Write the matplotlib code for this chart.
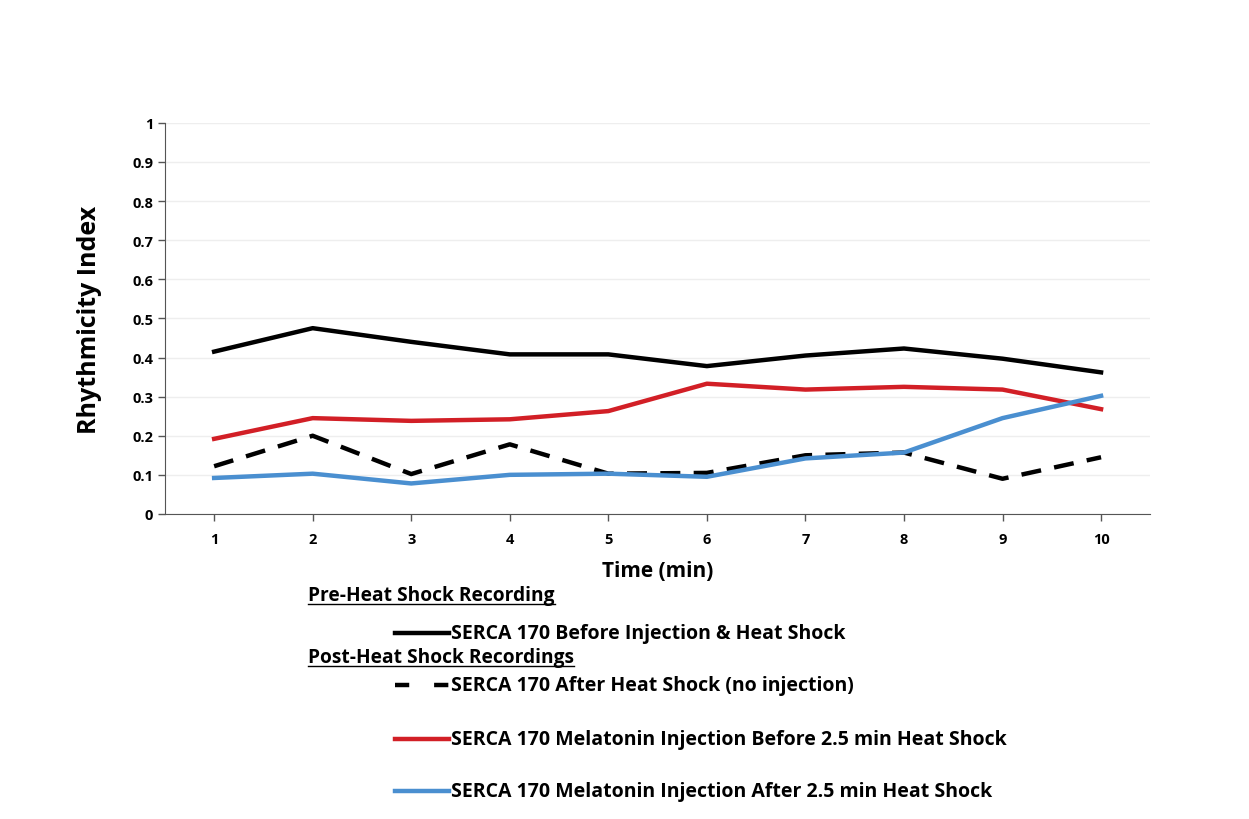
"""
Rhythmicity index over time for SERCA 170 recordings
"""
import matplotlib
import matplotlib.pyplot as plt
from matplotlib.lines import Line2D

matplotlib.use("Agg")

minutes = [1, 2, 3, 4, 5, 6, 7, 8, 9, 10]
before_injection = [0.415, 0.475, 0.44, 0.408, 0.408, 0.378, 0.405, 0.423, 0.397, 0.362]
after_heat_shock = [0.122, 0.2, 0.102, 0.178, 0.103, 0.105, 0.15, 0.157, 0.09, 0.145]
melatonin_before = [0.192, 0.245, 0.238, 0.242, 0.263, 0.333, 0.318, 0.325, 0.318, 0.268]
melatonin_after = [0.092, 0.103, 0.078, 0.1, 0.103, 0.095, 0.142, 0.157, 0.245, 0.302]
y_ticks = [0, 0.1, 0.2, 0.3, 0.4, 0.5, 0.6, 0.7, 0.8, 0.9, 1]
y_tick_labels = ["0", "0.1", "0.2", "0.3", "0.4", "0.5", "0.6", "0.7", "0.8", "0.9", "1"]

plt.rcParams["font.family"] = ["Open Sans", "DejaVu Sans"]

fig = plt.figure(figsize=(12.49, 8.2), dpi=100)
ax = fig.add_axes([0.132, 0.372, 0.789, 0.477])

ax.plot(minutes, before_injection, color="black", lw=3.2)
ax.plot(minutes, after_heat_shock, color="black", lw=3.2, dashes=(4.5, 3))
ax.plot(minutes, melatonin_before, color="#d21f26", lw=3.2)
ax.plot(minutes, melatonin_after, color="#4a8fd0", lw=3.2)

ax.set_xlim(0.5, 10.5)
ax.set_ylim(0, 1)
ax.set_xticks(minutes)
ax.set_yticks(y_ticks)
ax.set_yticklabels(y_tick_labels)
ax.tick_params(axis="both", labelsize=10.5, direction="out", length=5, width=1, color="#555555")
for lab in ax.get_xticklabels() + ax.get_yticklabels():
    lab.set_fontweight("bold")
ax.tick_params(axis="x", pad=8)
ax.grid(axis="y", color="#eeeeee", lw=1)
ax.set_axisbelow(True)
for side in ["top", "right"]:
    ax.spines[side].set_visible(False)
for side in ["left", "bottom"]:
    ax.spines[side].set_color("#555555")

ax.set_xlabel("Time (min)", fontsize=15, fontweight="bold", labelpad=10)
ax.set_ylabel("Rhythmicity Index", fontsize=18, fontweight="bold", labelpad=22)


def px(x, y):
    # pixel coords (top-left origin) -> figure fraction
    return x / 1249, 1 - y / 820


def underlined(x, y, text):
    t = fig.text(*px(x, y), text, fontsize=13.8, fontweight="bold", va="center")
    fig.canvas.draw()
    bb = t.get_window_extent().transformed(fig.transFigure.inverted())
    fig.add_artist(Line2D([bb.x0, bb.x1], [bb.y0 + 0.001, bb.y0 + 0.001],
                          transform=fig.transFigure, color="black", lw=1))


underlined(308, 596, "Pre-Heat Shock Recording")
underlined(308, 658, "Post-Heat Shock Recordings")

entries = [
    (634, "black", None, "SERCA 170 Before Injection & Heat Shock"),
    (686, "black", (3.2, 5.6), "SERCA 170 After Heat Shock (no injection)"),
    (740, "#d21f26", None, "SERCA 170 Melatonin Injection Before 2.5 min Heat Shock"),
    (792, "#4a8fd0", None, "SERCA 170 Melatonin Injection After 2.5 min Heat Shock"),
]
for y, color, dash, label in entries:
    x0, yy = px(395, y)
    x1, _ = px(449, y)
    line = Line2D([x0, x1], [yy, yy], transform=fig.transFigure, color=color, lw=3.2)
    if dash:
        line.set_dashes(dash)
    fig.add_artist(line)
    fig.text(*px(451, y), label, fontsize=14, fontweight="bold", va="center")

plt.savefig("out.png")
